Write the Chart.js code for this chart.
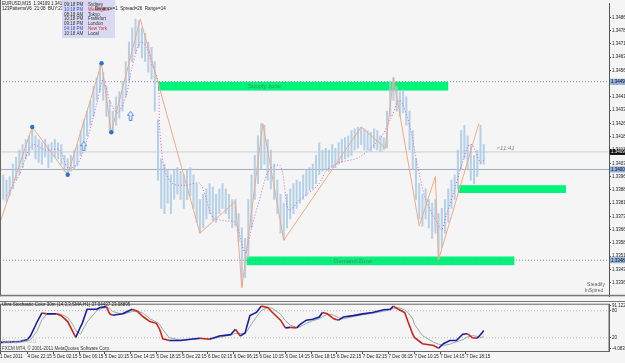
<!DOCTYPE html>
<html>
<head>
<meta charset="utf-8">
<script src="https://cdn.jsdelivr.net/npm/chart.js@4.4.1/dist/chart.umd.min.js"></script>
<style>
html, body { margin: 0; padding: 0; background: #f5f5f5; }
#wrap { position: relative; width: 625px; height: 363px; overflow: hidden; }
#main { position: absolute; left: 0; top: 0; }
#stoch { position: absolute; left: 0; top: 301px; }
</style>
</head>
<body>
<div id="wrap">
<canvas id="main" width="625" height="300"></canvas>
<canvas id="stoch" width="625" height="62"></canvas>
</div>
<script>
// price axis
var priceMin = 1.33283, priceMax = 1.34937;
var priceTicks = [1.34860, 1.34785, 1.34710, 1.34635, 1.34560, 1.34485, 1.34410, 1.34335, 1.34260, 1.34185, 1.34110,
	1.34035, 1.33960, 1.33885, 1.33810, 1.33735, 1.33660, 1.33585, 1.33510, 1.33435, 1.33360];
var xMax = 377.7; // M15 bars across the window

// time axis (M15 bar number -> label)
var tickBars = [0, 17, 33, 49, 65, 81, 97, 113, 129, 145, 161, 177, 193, 209, 225, 241, 257, 273, 289];
var tickLabels = ['1 Dec 2011', '4 Dec 22:15', '5 Dec 02:15', '5 Dec 06:15', '5 Dec 10:15', '5 Dec 14:15', '5 Dec 18:15',
	'5 Dec 22:15', '6 Dec 02:15', '6 Dec 06:15', '6 Dec 10:15', '6 Dec 14:15', '6 Dec 18:15', '6 Dec 22:15',
	'7 Dec 02:15', '7 Dec 06:15', '7 Dec 10:15', '7 Dec 14:15', '7 Dec 18:15'];

// half-hour bars, high / low
var barHigh = [
	1.3403,1.3397,1.3394,1.3396,1.3403,1.3407,1.3411,1.3414,1.3417,1.3419,
	1.3424,1.3419,1.3417,1.3415,1.3417,1.3414,1.3415,1.3417,1.3415,1.3414,
	1.3408,1.3406,1.3408,1.3411,1.3414,1.3422,1.3428,1.3433,1.3439,1.3447,
	1.3452,1.3460,1.3455,1.3447,1.3439,1.3433,1.3441,1.3444,1.3450,1.3461,
	1.3472,1.3480,1.3485,1.3484,1.3480,1.3477,1.3472,1.3469,1.3461,1.3428,
	1.3406,1.3403,1.3400,1.3397,1.3400,1.3401,1.3399,1.3397,1.3400,1.3401,
	1.3397,1.3392,1.3383,1.3386,1.3389,1.3392,1.3390,1.3386,1.3389,1.3392,
	1.3389,1.3386,1.3383,1.3383,1.3375,1.3367,1.3361,1.3383,1.3397,1.3408,
	1.3419,1.3426,1.3425,1.3417,1.3411,1.3403,1.3394,1.3386,1.3381,1.3386,
	1.3389,1.3392,1.3394,1.3393,1.3397,1.3400,1.3401,1.3403,1.3408,1.3415,
	1.3411,1.3412,1.3411,1.3414,1.3412,1.3415,1.3417,1.3418,1.3419,1.3422,
	1.3423,1.3424,1.3424,1.3423,1.3422,1.3421,1.3423,1.3422,1.3419,1.3418,
	1.3433,1.3450,1.3452,1.3447,1.3444,1.3445,1.3441,1.3433,1.3422,1.3406,
	1.3392,1.3386,1.3389,1.3383,1.3381,1.3383,1.3375,1.3378,1.3383,1.3389,
	1.3394,1.3397,1.3411,1.3422,1.3425,1.3419,1.3414,1.3408,1.3411,1.3425,
	1.3414];
var barLow = [
	1.3389,1.3383,1.3382,1.3385,1.3389,1.3394,1.3397,1.3401,1.3406,1.3408,
	1.3411,1.3406,1.3404,1.3403,1.3407,1.3401,1.3404,1.3407,1.3406,1.3403,
	1.3399,1.3397,1.3399,1.3400,1.3402,1.3408,1.3414,1.3419,1.3425,1.3430,
	1.3439,1.3444,1.3439,1.3430,1.3422,1.3421,1.3425,1.3429,1.3433,1.3441,
	1.3450,1.3461,1.3466,1.3469,1.3463,1.3461,1.3455,1.3451,1.3433,1.3394,
	1.3378,1.3375,1.3381,1.3375,1.3383,1.3386,1.3383,1.3378,1.3383,1.3385,
	1.3378,1.3370,1.3364,1.3367,1.3372,1.3375,1.3371,1.3370,1.3375,1.3378,
	1.3375,1.3372,1.3367,1.3368,1.3359,1.3334,1.3339,1.3350,1.3367,1.3383,
	1.3392,1.3400,1.3403,1.3394,1.3389,1.3383,1.3375,1.3364,1.3360,1.3367,
	1.3372,1.3375,1.3378,1.3381,1.3383,1.3385,1.3388,1.3389,1.3392,1.3397,
	1.3399,1.3400,1.3399,1.3401,1.3401,1.3403,1.3404,1.3406,1.3407,1.3408,
	1.3411,1.3412,1.3414,1.3411,1.3411,1.3410,1.3412,1.3411,1.3410,1.3411,
	1.3412,1.3430,1.3439,1.3433,1.3430,1.3432,1.3425,1.3411,1.3400,1.3383,
	1.3372,1.3368,1.3372,1.3367,1.3361,1.3364,1.3349,1.3356,1.3364,1.3370,
	1.3378,1.3383,1.3389,1.3400,1.3406,1.3400,1.3394,1.3392,1.3396,1.3403,
	1.3403];

// zigzag
var zzBars = [0, 20, 42, 63, 69, 87, 124, 146, 150, 163, 176, 224, 239, 244, 260, 270, 272, 297];
var zzPrices = [1.3370, 1.3424, 1.3397, 1.3460, 1.3421, 1.3485, 1.3364, 1.3382, 1.3333, 1.3426, 1.3360,
	1.3424, 1.3412, 1.3452, 1.3368, 1.3396, 1.3349, 1.3426];

// dotted moving average
var maBars = [4, 12, 20, 28, 37, 42, 48, 54, 60, 64, 68, 73, 78, 82, 87, 91, 94, 98, 99, 102, 107, 115, 124, 132,
	140, 146, 152, 156, 161, 167, 174, 179, 186, 197, 203, 211, 223, 236, 242, 248, 254, 259, 264, 271, 274, 277,
	282, 290, 293, 298, 301];
var maPrices = [1.3385, 1.3397, 1.3414, 1.3411, 1.3411, 1.3401, 1.3403, 1.3417, 1.3437, 1.3451, 1.3439, 1.3432,
	1.3441, 1.3458, 1.3472, 1.3469, 1.3460, 1.3450, 1.3424, 1.3400, 1.3392, 1.3391, 1.3392, 1.3373, 1.3371, 1.3370,
	1.3353, 1.3367, 1.3383, 1.3400, 1.3402, 1.3377, 1.3383, 1.3391, 1.3400, 1.3404, 1.3407, 1.3418, 1.3428, 1.3439,
	1.3425, 1.3402, 1.3383, 1.3370, 1.3366, 1.3375, 1.3389, 1.3413, 1.3414, 1.3404, 1.3406];

// fractal dots and up arrows
var dotBars = [20, 42, 63, 69];
var dotPrices = [1.3424, 1.3397, 1.3460, 1.3421];
var arrowBars = [52, 81];
var arrowPrices = [1.34132, 1.34303];

// rectangles
var zoneFrom = [98, 284, 153];
var zoneTo = [278, 351, 319];
var zoneHigh = [1.34496, 1.33911, 1.33508];
var zoneLow = [1.34446, 1.33867, 1.33459];
var zoneText = ['Supply zone', '', 'Demand Zone'];
var zoneTextBar = [164, 0, 219];

// horizontal lines
var supplyLevel = 1.34496, demandLevel = 1.33487, roundLevel = 1.34000, bidLevel = 1.34099;

// stochastic sub-window
var stochBars = [0, 12, 17, 19, 23, 26, 29, 35, 38, 42, 45, 47, 50, 51, 54, 60, 62, 66, 68, 70, 76, 82, 85, 89, 93,
	97, 99, 101, 105, 112, 118, 124, 130, 136, 143, 146, 149, 152, 155, 159, 162, 166, 169, 174, 177, 180, 184, 186,
	190, 194, 198, 200, 203, 207, 210, 213, 219, 225, 231, 238, 242, 244, 247, 251, 253, 256, 257, 262, 269, 272, 275,
	279, 283, 287, 290, 293, 296, 299, 300];
var stochMain = [10, 12, 16, 25, 55, 75, 73, 73, 69, 56, 35, 21, 45, 52, 83, 83, 87, 89, 73, 70, 73, 83, 79, 66, 56,
	52, 39, 18, 14, 14, 17, 19, 17, 24, 27, 39, 24, 31, 69, 76, 90, 87, 76, 59, 42, 43, 42, 49,
	59, 61, 66, 76, 73, 62, 59, 66, 69, 73, 76, 82, 83, 90, 83, 76, 56, 28, 21, 7, 3, -3, 7,
	14, 14, 28, 29, 20, 19, 31, 36];
var stochSignal = [9, 10, 13, 16, 35, 60, 72, 74, 72, 65, 50, 36, 28, 35, 55, 80, 84, 87, 85, 78, 72, 78, 80, 74, 62,
	55, 50, 38, 20, 15, 16, 18, 18, 21, 26, 30, 30, 28, 45, 66, 80, 87, 85, 72, 58, 48, 43, 44,
	52, 58, 62, 67, 72, 70, 64, 62, 67, 71, 74, 79, 82, 85, 87, 82, 76, 62, 50, 25, 10, 6, 3,
	6, 11, 16, 22, 25, 23, 21, 24];
var stochLevels = [20, 80];
var stochTicks = [-4.08, 20, 80, 91.12];
var stochMin = -9.1, stochMax = 93.2;

var sessionTimes = ['09:18 PM', '10:18 PM', '08:18 AM', '10:18 PM', '09:18 PM', '04:18 PM', '10:18 AM'];
var sessionNames = ['Sydney', 'Wellington', 'Tokyo', 'Frankfurt', 'London', 'New York', 'Local'];

var FONT = '"Liberation Sans", Arial, sans-serif';

function pts(xs, ys) {
	return xs.map(function (x, i) { return {x: x, y: ys[i]}; });
}

function hline(price, color, dash) {
	return {type: 'line', data: [{x: 0, y: price}, {x: xMax, y: price}], borderColor: color, borderWidth: 1,
		borderDash: dash, pointRadius: 0, order: 10};
}

function makeArrow() {
	var c = document.createElement('canvas');
	c.width = 7; c.height = 10;
	var g = c.getContext('2d');
	g.strokeStyle = '#4f8ad6';
	g.fillStyle = '#f5f5f5';
	g.lineWidth = 1;
	g.beginPath();
	g.moveTo(3.5, 0.5); g.lineTo(6.5, 4.5); g.lineTo(4.8, 4.5); g.lineTo(4.8, 9.5);
	g.lineTo(2.2, 9.5); g.lineTo(2.2, 4.5); g.lineTo(0.5, 4.5); g.closePath();
	g.fill(); g.stroke();
	return c;
}

var bars = barHigh.map(function (h, i) { return {x: i * 2, y: [barLow[i], h]}; });

var mainOverlay = {
	id: 'mainOverlay',
	beforeDatasetsDraw: function (chart) {
		var ctx = chart.ctx, xs = chart.scales.x, ys = chart.scales.y;
		ctx.save();
		for (var i = 0; i < zoneFrom.length; i++) {
			var x0 = xs.getPixelForValue(zoneFrom[i]), x1 = xs.getPixelForValue(zoneTo[i]);
			var y0 = ys.getPixelForValue(zoneHigh[i]), y1 = ys.getPixelForValue(zoneLow[i]);
			ctx.fillStyle = '#00f47a';
			ctx.fillRect(x0, y0, x1 - x0, y1 - y0);
			if (zoneText[i]) {
				ctx.fillStyle = '#4d8a62';
				ctx.font = '6px ' + FONT;
				ctx.textAlign = 'center';
				ctx.textBaseline = 'middle';
				ctx.fillText(zoneText[i], xs.getPixelForValue(zoneTextBar[i]), (y0 + y1) / 2 + 0.5);
			}
		}
		ctx.restore();
	},
	afterDraw: function (chart) {
		var ctx = chart.ctx, xs = chart.scales.x, ys = chart.scales.y, a = chart.chartArea;
		ctx.save();
		// frame
		ctx.strokeStyle = '#666';
		ctx.lineWidth = 1;
		ctx.beginPath();
		ctx.moveTo(0.5, 0); ctx.lineTo(0.5, a.bottom);
		ctx.stroke();
		ctx.fillStyle = '#777';
		ctx.fillRect(0, a.bottom - 1.5, 625, 1.5);

		// timer text
		ctx.fillStyle = '#8a8a8a';
		ctx.font = 'italic 6px ' + FONT;
		ctx.textAlign = 'left';
		ctx.textBaseline = 'middle';
		ctx.fillText('<11:41', xs.getPixelForValue(308), ys.getPixelForValue(1.3412));

		// watermark
		ctx.fillStyle = '#666';
		ctx.font = '5px ' + FONT;
		ctx.textAlign = 'center';
		ctx.fillText('Steadily', 596, 285);
		ctx.fillText('InSpired', 594, 291);

		// info lines
		ctx.textAlign = 'left';
		ctx.fillStyle = '#222';
		ctx.font = '4.5px ' + FONT;
		ctx.fillText('EURUSD,M15  1.34109 1.34120 1.34094 1.34109', 2, 3.5);
		ctx.fillText('123PatternsV6  21:08  BUY:233  17:45', 2, 9);

		// session panel
		ctx.fillStyle = 'rgba(214,214,242,0.92)';
		ctx.fillRect(62, 0, 53, 38);
		for (var i = 0; i < sessionTimes.length; i++) {
			var ty = 4.5 + i * 4.9;
			ctx.fillStyle = (i === 1 || i === 5) ? '#3050c0' : '#333';
			ctx.fillText(sessionTimes[i], 64, ty);
			ctx.fillStyle = (i === 1 || i === 5) ? '#d03030' : '#333';
			ctx.fillText(sessionNames[i], 88, ty);
		}
		ctx.fillStyle = '#222';
		ctx.fillText('Distance=1  Spread=26  Range=14', 95, 9);

		// price axis markers
		var marks = [[supplyLevel, '#8fb0dc', '#111'], [bidLevel, '#111', '#fff'], [roundLevel, '#8fb0dc', '#111'], [demandLevel, '#8fb0dc', '#111']];
		ctx.font = '4.5px ' + FONT;
		for (var k = 0; k < marks.length; k++) {
			var y = ys.getPixelForValue(marks[k][0]);
			ctx.fillStyle = marks[k][1];
			ctx.fillRect(610, y - 3, 15, 6);
			ctx.fillStyle = marks[k][2];
			ctx.fillText(marks[k][0].toFixed(5), 611, y + 0.3);
		}
		ctx.restore();
	}
};

var mainChart = new Chart(document.getElementById('main').getContext('2d'), {
	type: 'bar',
	data: {
		datasets: [
			{type: 'line', data: pts(dotBars, dotPrices), showLine: false, pointRadius: 2.2, pointBackgroundColor: '#2f72cc',
				pointBorderWidth: 0, order: 0},
			{type: 'line', data: pts(arrowBars, arrowPrices), showLine: false, pointStyle: makeArrow(), order: 1},
			{type: 'line', data: pts(zzBars, zzPrices), borderColor: '#f2aa80', borderWidth: 1, pointRadius: 0, tension: 0, order: 2},
			{type: 'line', data: pts(maBars, maPrices), borderColor: '#c366d6', borderWidth: 1, borderDash: [1, 2],
				pointRadius: 0, tension: 0.3, order: 3},
			{type: 'bar', data: bars, backgroundColor: 'rgba(165,200,228,0.8)', barThickness: 1.4, grouped: false, order: 4},
			hline(supplyLevel, '#7d8eaa', [1, 2]),
			hline(demandLevel, '#7d8eaa', [1, 2]),
			hline(roundLevel, '#9cacc2', []),
			hline(bidLevel, '#cfcfcf', [])
		]
	},
	options: {
		responsive: false,
		animation: false,
		layout: { padding: 0, autoPadding: false },
		plugins: { legend: { display: false }, tooltip: { enabled: false } },
		scales: {
			x: { type: 'linear', min: 0, max: xMax, offset: false, display: false },
			y: {
				position: 'right', min: priceMin, max: priceMax,
				afterFit: function (s) { s.width = 16; },
				afterBuildTicks: function (s) { s.ticks = priceTicks.map(function (v) { return {value: v}; }); },
				ticks: { color: '#222', padding: 1, font: { size: 4.5, family: FONT },
					callback: function (v) { return v.toFixed(5); } },
				grid: { drawOnChartArea: false, tickLength: 2, color: '#555' },
				border: { color: '#555' }
			}
		}
	},
	plugins: [mainOverlay]
});

var stochOverlay = {
	id: 'stochOverlay',
	afterDraw: function (chart) {
		var ctx = chart.ctx, a = chart.chartArea;
		ctx.save();
		ctx.strokeStyle = '#666';
		ctx.lineWidth = 1;
		ctx.strokeRect(0.5, a.top - 0.5, a.right - 0.5, a.bottom - a.top + 1);
		ctx.fillStyle = '#777';
		ctx.fillRect(0, 0, 625, 1);
		ctx.fillStyle = '#222';
		ctx.font = '4.5px ' + FONT;
		ctx.textBaseline = 'middle';
		ctx.fillText('Ultra Stochastic Color 30m (14,3,3,SMA,H1) 37.04437 23.08895', 2, 4);
		ctx.fillStyle = '#c8c8c8';
		ctx.fillText('Copyright © 2011 ...', 2, 41);
		ctx.fillStyle = '#333';
		ctx.fillText('FXCM MT4, © 2001-2011 MetaQuotes Software Corp.', 2, 48);
		ctx.restore();
	}
};

var stochChart = new Chart(document.getElementById('stoch').getContext('2d'), {
	type: 'line',
	data: {
		datasets: [
			{data: pts(stochBars, stochMain), borderWidth: 1.6, pointRadius: 0, tension: 0, order: 0,
				segment: { borderColor: function (c) { return c.p1.parsed.y >= c.p0.parsed.y ? '#1c1ca0' : '#c9251d'; } }},
			{data: pts(stochBars, stochSignal), borderColor: '#8fae9c', borderWidth: 1, pointRadius: 0, tension: 0, order: 1},
			{data: [{x: 0, y: stochLevels[0]}, {x: xMax, y: stochLevels[0]}], borderColor: '#b5b5b5', borderWidth: 1,
				borderDash: [1, 2], pointRadius: 0, order: 2},
			{data: [{x: 0, y: stochLevels[1]}, {x: xMax, y: stochLevels[1]}], borderColor: '#b5b5b5', borderWidth: 1,
				borderDash: [1, 2], pointRadius: 0, order: 3}
		]
	},
	options: {
		responsive: false,
		animation: false,
		layout: { padding: { top: 1 }, autoPadding: false },
		plugins: { legend: { display: false }, tooltip: { enabled: false } },
		scales: {
			x: {
				type: 'linear', min: 0, max: xMax,
				afterFit: function (s) { s.height = 12; },
				afterBuildTicks: function (s) { s.ticks = tickBars.map(function (v) { return {value: v}; }); },
				ticks: { autoSkip: false, maxRotation: 0, align: 'start', padding: 0, color: '#222',
					font: { size: 4.5, family: FONT },
					callback: function (v) { var i = tickBars.indexOf(v); return i >= 0 ? tickLabels[i] : ''; } },
				grid: { drawOnChartArea: false, tickLength: 3, color: '#555' },
				border: { display: false }
			},
			y: {
				position: 'right', min: stochMin, max: stochMax,
				afterFit: function (s) { s.width = 16; },
				afterBuildTicks: function (s) { s.ticks = stochTicks.map(function (v) { return {value: v}; }); },
				ticks: { color: '#222', padding: 1, font: { size: 4.5, family: FONT },
					callback: function (v) { return v === 91.12 ? '91.1226' : (v === -4.08 ? '-4.0837' : String(v)); } },
				grid: { drawOnChartArea: false, tickLength: 2, color: '#555' },
				border: { color: '#555' }
			}
		}
	},
	plugins: [stochOverlay]
});
</script>
</body>
</html>
